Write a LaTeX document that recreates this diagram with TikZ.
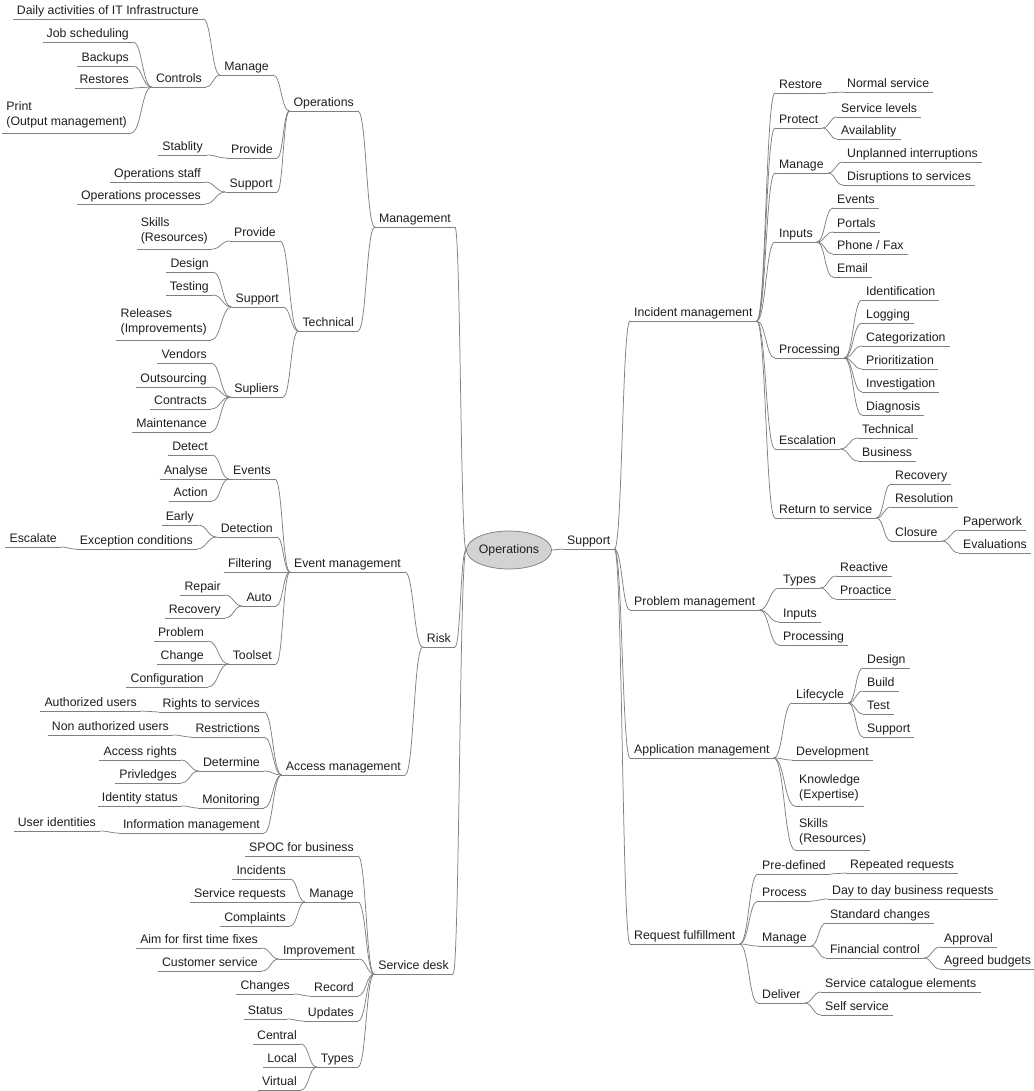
\documentclass[tikz,border=0pt]{standalone}
\usepackage{fontspec}
\setmainfont{Liberation Sans}
\usetikzlibrary{calc,shapes.geometric}
\definecolor{edgecol}{HTML}{808080}
\definecolor{txtcol}{HTML}{1E1E1E}
\definecolor{rootfill}{HTML}{D3D3D3}
\tikzset{
  ul/.style={draw=edgecol, line width=0.75pt},
  mbase/.style={font=\fontsize{12.3}{15.5}\selectfont, text=txtcol, inner xsep=4pt, inner ysep=1.5pt,
    append after command={(\tikzlastnode.south west) edge[ul] (\tikzlastnode.south east)}},
  mone/.style={mbase, text height=9pt, text depth=3pt},
  mtwo/.style={mbase, align=left, inner ysep=4.5pt},
  lnode/.style={mone, anchor=south east},
  rnode/.style={mone, anchor=south west},
  lnodetwo/.style={mtwo, anchor=south east},
  rnodetwo/.style={mtwo, anchor=south west},
  conn/.style={draw=edgecol, line width=0.75pt,
    to path={let \p1=(\tikztostart), \p2=(\tikztotarget) in
      .. controls ({(\x1+\x2)/2},\y1) and ({(\x1+\x2)/2},\y2) .. (\tikztotarget)}},
}
\begin{document}
\begin{tikzpicture}[x=1pt,y=-1pt]
\useasboundingbox (0,0) rectangle (1033,1091);
\fill[white] (0,0) rectangle (1033,1091);
% root
\node[ellipse, draw=edgecol, fill=rootfill, line width=0.75pt, minimum width=74pt, minimum height=38pt, inner sep=0pt,
  font=\fontsize{12.3}{15.5}\selectfont, text=txtcol] (root) at (509,550) {Operations};

% ---------- Management ----------
\node[lnode] (mgmt) at (455,227) {Management};
\node[lnode] (opsbr) at (358,111) {Operations};
\node[lnode] (opsman) at (273,75) {Manage};
\node[lnode] (dai) at (203,19) {Daily activities of IT Infrastructure};
\node[lnode] (controls) at (206,87) {Controls};
\node[lnode] (job) at (133,42) {Job scheduling};
\node[lnode] (backups) at (133,66) {Backups};
\node[lnode] (restores) at (133,88) {Restores};
\node[lnodetwo] (print) at (131,133) {Print\\(Output management)};
\node[lnode] (opsprov) at (277,158) {Provide};
\node[lnode] (stab) at (207,155) {Stablity};
\node[lnode] (opssup) at (277,192) {Support};
\node[lnode] (opsstaff) at (205,182) {Operations staff};
\node[lnode] (opsproc) at (205,204) {Operations processes};
\node[lnode] (tech) at (358,331) {Technical};
\node[lnode] (techprov) at (280,241) {Provide};
\node[lnodetwo] (skills) at (212,249) {Skills\\(Resources)};
\node[lnode] (techsup) at (283,307) {Support};
\node[lnode] (design) at (213,272) {Design};
\node[lnode] (testing) at (213,295) {Testing};
\node[lnodetwo] (releases) at (211,340) {Releases\\(Improvements)};
\node[lnode] (supl) at (283,397) {Supliers};
\node[lnode] (vendors) at (211,363) {Vendors};
\node[lnode] (outs) at (211,387) {Outsourcing};
\node[lnode] (contracts) at (211,409) {Contracts};
\node[lnode] (maint) at (211,432) {Maintenance};

% ---------- Risk ----------
\node[lnode] (risk) at (455,647) {Risk};
\node[lnode] (evm) at (405,572) {Event management};
\node[lnode] (events) at (275,479) {Events};
\node[lnode] (detect) at (212,455) {Detect};
\node[lnode] (analyse) at (212,479) {Analyse};
\node[lnode] (action) at (212,501) {Action};
\node[lnode] (detection) at (277,537) {Detection};
\node[lnode] (early) at (198,525) {Early};
\node[lnode] (exc) at (197,549) {Exception conditions};
\node[lnode] (escalate) at (61,547) {Escalate};
\node[lnode] (filtering) at (276,572) {Filtering};
\node[lnode] (auto) at (276,606) {Auto};
\node[lnode] (repair) at (225,595) {Repair};
\node[lnode] (recov) at (225,618) {Recovery};
\node[lnode] (toolset) at (276,664) {Toolset};
\node[lnode] (problem) at (208,641) {Problem};
\node[lnode] (change) at (208,664) {Change};
\node[lnode] (config) at (208,687) {Configuration};
\node[lnode] (acm) at (405,775) {Access management};
\node[lnode] (rights) at (264,712) {Rights to services};
\node[lnode] (authu) at (141,711) {Authorized users};
\node[lnode] (restr) at (264,737) {Restrictions};
\node[lnode] (nonauth) at (173,735) {Non authorized users};
\node[lnode] (determ) at (264,771) {Determine};
\node[lnode] (accr) at (181,760) {Access rights};
\node[lnode] (priv) at (181,783) {Privledges};
\node[lnode] (monit) at (264,808) {Monitoring};
\node[lnode] (idstat) at (182,806) {Identity status};
\node[lnode] (infom) at (264,833) {Information management};
\node[lnode] (userid) at (100,831) {User identities};

% ---------- Service desk ----------
\node[lnode] (sd) at (453,974) {Service desk};
\node[lnode] (spoc) at (358,856) {SPOC for business};
\node[lnode] (sdman) at (358,902) {Manage};
\node[lnode] (incid) at (290,879) {Incidents};
\node[lnode] (servreq) at (290,902) {Service requests};
\node[lnode] (compl) at (290,926) {Complaints};
\node[lnode] (impr) at (359,959) {Improvement};
\node[lnode] (aim) at (262,948) {Aim for first time fixes};
\node[lnode] (custs) at (262,971) {Customer service};
\node[lnode] (record) at (358,996) {Record};
\node[lnode] (changes) at (294,994) {Changes};
\node[lnode] (updates) at (358,1021) {Updates};
\node[lnode] (status) at (287,1019) {Status};
\node[lnode] (sdtypes) at (358,1067) {Types};
\node[lnode] (central) at (301,1044) {Central};
\node[lnode] (local) at (301,1067) {Local};
\node[lnode] (virtual) at (301,1090) {Virtual};

% ---------- Support ----------
\node[rnode] (support) at (563,549) {Support};
\node[rnode] (im) at (630,321) {Incident management};
\node[rnode] (restore) at (775,93) {Restore};
\node[rnode] (normal) at (843,92) {Normal service};
\node[rnode] (protect) at (775,128) {Protect};
\node[rnode] (servlev) at (837,117) {Service levels};
\node[rnode] (avail) at (837,139) {Availablity};
\node[rnode] (imman) at (775,173) {Manage};
\node[rnode] (unpl) at (843,162) {Unplanned interruptions};
\node[rnode] (disr) at (843,185) {Disruptions to services};
\node[rnode] (inputs) at (775,242) {Inputs};
\node[rnode] (evtwo) at (833,208) {Events};
\node[rnode] (portals) at (833,232) {Portals};
\node[rnode] (phone) at (833,254) {Phone / Fax};
\node[rnode] (email) at (833,277) {Email};
\node[rnode] (proc) at (775,358) {Processing};
\node[rnode] (ident) at (862,300) {Identification};
\node[rnode] (logging) at (862,323) {Logging};
\node[rnode] (categ) at (862,346) {Categorization};
\node[rnode] (prior) at (862,369) {Prioritization};
\node[rnode] (invest) at (862,392) {Investigation};
\node[rnode] (diag) at (862,415) {Diagnosis};
\node[rnode] (escal) at (775,449) {Escalation};
\node[rnode] (techim) at (858,438) {Technical};
\node[rnode] (business) at (858,461) {Business};
\node[rnode] (ret) at (775,518) {Return to service};
\node[rnode] (recovim) at (891,484) {Recovery};
\node[rnode] (resol) at (891,507) {Resolution};
\node[rnode] (closure) at (891,541) {Closure};
\node[rnode] (paper) at (959,530) {Paperwork};
\node[rnode] (evals) at (959,553) {Evaluations};
\node[rnode] (pm) at (630,610) {Problem management};
\node[rnode] (pmtypes) at (779,588) {Types};
\node[rnode] (reactive) at (836,576) {Reactive};
\node[rnode] (proactice) at (836,599) {Proactice};
\node[rnode] (pminputs) at (779,622) {Inputs};
\node[rnode] (pmproc) at (779,645) {Processing};
\node[rnode] (am) at (630,758) {Application management};
\node[rnode] (lifecycle) at (792,703) {Lifecycle};
\node[rnode] (amdesign) at (863,668) {Design};
\node[rnode] (build) at (863,691) {Build};
\node[rnode] (test) at (863,714) {Test};
\node[rnode] (amsup) at (863,737) {Support};
\node[rnode] (dev) at (792,760) {Development};
\node[rnodetwo] (know) at (795,806) {Knowledge\\(Expertise)};
\node[rnodetwo] (amskills) at (795,850) {Skills\\(Resources)};
\node[rnode] (rf) at (630,944) {Request fulfillment};
\node[rnode] (predef) at (758,874) {Pre-defined};
\node[rnode] (repeated) at (846,873) {Repeated requests};
\node[rnode] (process) at (758,901) {Process};
\node[rnode] (daytoday) at (828,899) {Day to day business requests};
\node[rnode] (rfman) at (758,946) {Manage};
\node[rnode] (stdch) at (826,923) {Standard changes};
\node[rnode] (fin) at (826,958) {Financial control};
\node[rnode] (approval) at (940,947) {Approval};
\node[rnode] (agreed) at (940,969) {Agreed budgets};
\node[rnode] (deliver) at (758,1003) {Deliver};
\node[rnode] (servcat) at (821,992) {Service catalogue elements};
\node[rnode] (selfs) at (821,1015) {Self service};

% ---------- connectors (left node east end -> right node west end) ----------
\foreach \a/\b in {
  dai/opsman, controls/opsman, job/controls, backups/controls, restores/controls, print/controls,
  stab/opsprov, opsstaff/opssup, opsproc/opssup,
  opsman/opsbr, opsprov/opsbr, opssup/opsbr,
  skills/techprov, design/techsup, testing/techsup, releases/techsup,
  vendors/supl, outs/supl, contracts/supl, maint/supl,
  techprov/tech, techsup/tech, supl/tech,
  opsbr/mgmt, tech/mgmt,
  detect/events, analyse/events, action/events,
  early/detection, exc/detection, escalate/exc,
  repair/auto, recov/auto,
  problem/toolset, change/toolset, config/toolset,
  events/evm, detection/evm, filtering/evm, auto/evm, toolset/evm,
  authu/rights, nonauth/restr, accr/determ, priv/determ, idstat/monit, userid/infom,
  rights/acm, restr/acm, determ/acm, monit/acm, infom/acm,
  evm/risk, acm/risk,
  incid/sdman, servreq/sdman, compl/sdman,
  aim/impr, custs/impr, changes/record, status/updates,
  central/sdtypes, local/sdtypes, virtual/sdtypes,
  spoc/sd, sdman/sd, impr/sd, record/sd, updates/sd, sdtypes/sd,
  support/im, support/pm, support/am, support/rf,
  im/restore, im/protect, im/imman, im/inputs, im/proc, im/escal, im/ret,
  restore/normal, protect/servlev, protect/avail, imman/unpl, imman/disr,
  inputs/evtwo, inputs/portals, inputs/phone, inputs/email,
  proc/ident, proc/logging, proc/categ, proc/prior, proc/invest, proc/diag,
  escal/techim, escal/business,
  ret/recovim, ret/resol, ret/closure, closure/paper, closure/evals,
  pm/pmtypes, pm/pminputs, pm/pmproc, pmtypes/reactive, pmtypes/proactice,
  am/lifecycle, am/dev, am/know, am/amskills,
  lifecycle/amdesign, lifecycle/build, lifecycle/test, lifecycle/amsup,
  rf/predef, rf/process, rf/rfman, rf/deliver,
  predef/repeated, process/daytoday, rfman/stdch, rfman/fin,
  fin/approval, fin/agreed, deliver/servcat, deliver/selfs}
  \draw[conn] (\a.south east) to (\b.south west);

\foreach \a in {mgmt, risk, sd}
  \draw[conn] (\a.south east) to (root.west);
\draw[conn] (root.east) to (support.south west);
\end{tikzpicture}
\end{document}
